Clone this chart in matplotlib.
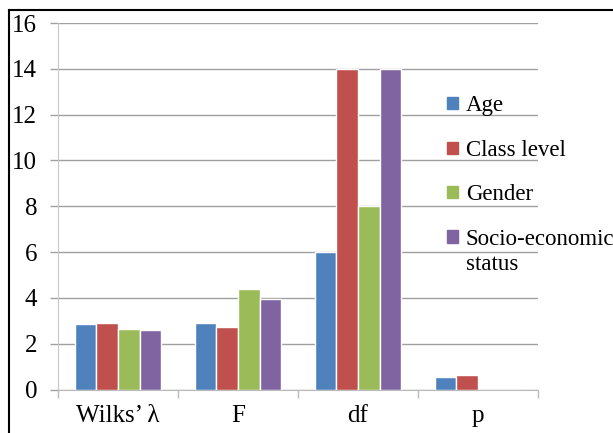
import matplotlib
matplotlib.use("Agg")
import matplotlib.pyplot as plt
import numpy as np
from matplotlib.lines import Line2D
from matplotlib.patches import Patch

plt.rcParams['font.family'] = ['Liberation Serif', 'DejaVu Serif']

categories = ['Wilks\u2019 \u03bb', 'F', 'df', 'p']
series = ['Age', 'Class level', 'Gender', 'Socio-economic status']
age = [2.87, 2.89, 6, 0.53]
class_level = [2.90, 2.72, 14, 0.63]
gender = [2.65, 4.38, 8, 0]
socio = [2.61, 3.96, 14, 0]
colors = ['#4F81BD', '#C0504D', '#9BBB59', '#8064A2']

W, H = 613, 433
fig = plt.figure(figsize=(W / 100, H / 100), dpi=100)
ax = fig.add_axes([58 / W, (H - 389.5) / H, (538 - 58) / W, (389.5 - 23) / H])

x = np.arange(len(categories))
bw = 0.18
for i, (vals, c, lab) in enumerate(zip([age, class_level, gender, socio], colors, series)):
    ax.bar(x + (i - 1.5) * bw, vals, bw, color=c, edgecolor='white', linewidth=1, label=lab, zorder=3)

ax.set_ylim(0, 16)
ax.set_yticks(range(0, 17, 2))
ax.set_xlim(-0.5, 3.5)
ax.set_xticks(np.arange(-0.5, 3.6, 1))
ax.set_xticklabels([])
ax.set_xticks(x, minor=True)
ax.set_xticklabels(categories, minor=True)
ax.tick_params(axis='x', which='minor', length=0, labelsize=18, pad=11)
ax.tick_params(axis='x', which='major', length=6, color='#BBBBBB', width=1)
ax.tick_params(axis='y', length=6, color='#A0A0A0', width=1, labelsize=18, pad=9)
ax.grid(axis='y', color='#A0A0A0', linewidth=1, zorder=0)
for s in ['top', 'right']:
    ax.spines[s].set_visible(False)
ax.spines['left'].set_color('#C8C8C8')
ax.spines['bottom'].set_color('#BBBBBB')

# the long label wraps: first word stays next to its swatch, the rest goes underneath
first, rest = series[-1].split(' ', 1)
labels = series[:-1] + [first]
handles = [Patch(color=c) for c in colors]
leg = fig.legend(handles, labels, loc='upper left', bbox_to_anchor=(436 / W, 1 - 84 / H),
                 frameon=False, fontsize=16.5, handlelength=0.45, handleheight=0.45,
                 handletextpad=0.35, labelspacing=1.02, borderpad=0)

fig.canvas.draw()
bb = leg.get_texts()[-1].get_window_extent()
fig.text(bb.x0 / W, (bb.y0 - 25) / H, rest, fontsize=16.5, ha='left', va='bottom')

# frame lines on the top and left edges
fig.add_artist(Line2D([9 / W, 1], [1 - 10 / H, 1 - 10 / H], color='black', linewidth=1.5))
fig.add_artist(Line2D([9 / W, 9 / W], [0, 1 - 10 / H], color='black', linewidth=1.5))

fig.savefig('out.png', dpi=100)
